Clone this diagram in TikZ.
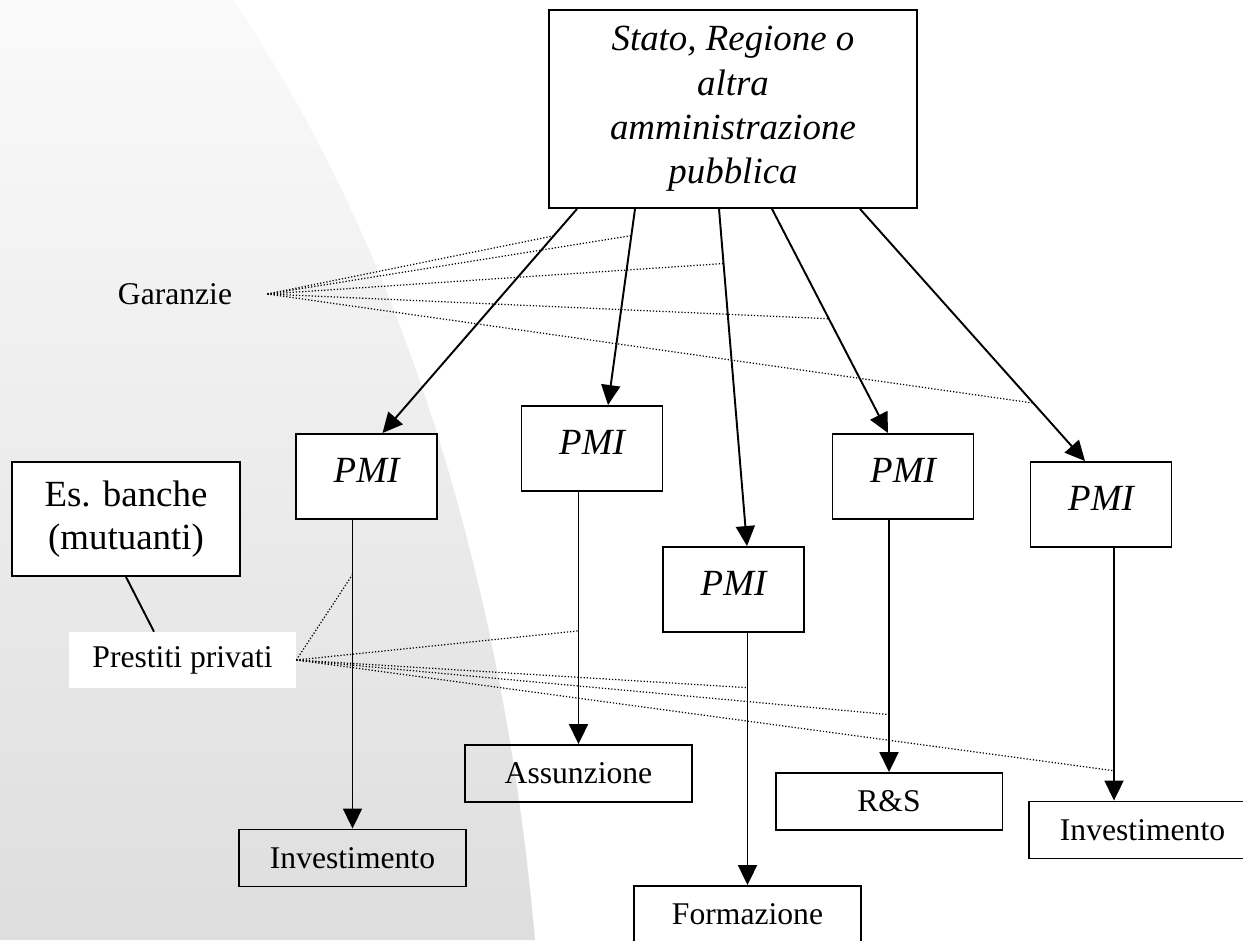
\documentclass[tikz,border=0pt]{standalone}
\usepackage{fontspec}
\setmainfont{Liberation Serif}
\usetikzlibrary{arrows.meta}
\usetikzlibrary{calc}

\begin{document}
\begin{tikzpicture}[x=0.02cm, y=-0.02cm,
    pmibox/.style={draw, fill=white, line width=1.1pt, inner sep=0pt, minimum width=2.82cm, minimum height=1.7cm,
      font=\fontsize{21}{25}\selectfont\itshape, text height=0.5cm, text depth=0.28cm},
    endbox/.style={draw, line width=1.1pt, inner sep=0pt, minimum width=4.54cm, minimum height=1.14cm,
      font=\fontsize{18}{21}\selectfont},
    arr/.style={line width=1.1pt, -{Triangle[length=4mm, width=3.8mm]}},
    dotline/.style={line width=0.7pt, dash pattern=on 0.7pt off 1.1pt}]
      \useasboundingbox (0,0) rectangle (1243,940);

      % sfondo
      \shade[top color=black!2, bottom color=black!13] (0,0) -- (233,0) .. controls (410,260) and (505,600) .. (535,940) -- (0,940) -- cycle;

      \node[draw, fill=white, line width=1.1pt, inner sep=0pt, minimum width=7.36cm, minimum height=3.96cm, align=center,
        font=\fontsize{21}{25.3}\selectfont\itshape] (ente) at (733,109) {Stato, Regione o\\altra\\amministrazione\\pubblica};

      \node[pmibox] (p1) at (366.5,476.5) {PMI};
      \node[pmibox] (p2) at (592,448.5) {PMI};
      \node[pmibox] (p3) at (733.5,589.5) {PMI};
      \node[pmibox] (p4) at (903,476.5) {PMI};
      \node[pmibox] (p5) at (1101,504.5) {PMI};

      \node[endbox] (inv1) at (352.5,858) {Investimento};
      \node[endbox] (ass) at (578.5,773.5) {Assunzione};
      \node[endbox] (form) at (747.5,914.5) {Formazione};
      \node[endbox] (rs) at (889,801.5) {R\&S};
      \node[endbox] (inv2) at (1142.5,830) {Investimento};

      \node[draw, fill=white, line width=1.1pt, inner sep=0pt, minimum width=4.56cm, minimum height=2.28cm, align=center,
        font=\fontsize{21}{24.5}\selectfont] (banche) at (126,519) {Es. banche\\(mutuanti)};
      \node[fill=white, inner sep=0pt, minimum width=4.54cm, minimum height=1.12cm,
        font=\fontsize{18}{21}\selectfont] (prestiti) at (182.5,660) {Prestiti privati};
      \node[inner ysep=0pt, inner xsep=0.7cm, font=\fontsize{18}{21}\selectfont] (garanzie) at (175,294) {Garanzie};

      % dall'ente alle PMI
      \draw[arr] ($(ente.south)+(-156,0)$) -- coordinate[pos=0.12] (g1) ($(p1.north)+(16,0)$);
      \draw[arr] ($(ente.south)+(-98,0)$) -- coordinate[pos=0.136] (g2) ($(p2.north)+(16,0)$);
      \draw[arr] ($(ente.south)+(-14,0)$) -- coordinate[pos=0.162] (g3) ($(p3.north)+(13.5,0)$);
      \draw[arr] ($(ente.south)+(39,0)$) -- coordinate[pos=0.49] (g4) ($(p4.north)+(-15,0)$);
      \draw[arr] ($(ente.south)+(127,0)$) -- coordinate[pos=0.77] (g5) ($(p5.north)+(-16,0)$);

      % dalle PMI agli impieghi
      \coordinate (t5) at ($(inv2.north)+(-28.5,0)$);
      \draw[arr] (p1.south -| inv1.north) -- coordinate[pos=0.177] (q1) (inv1.north);
      \draw[arr] (p2.south -| ass.north) -- coordinate[pos=0.551] (q2) (ass.north);
      \draw[arr] (p3.south -| form.north) -- coordinate[pos=0.217] (q3) (form.north);
      \draw[arr] (p4.south -| rs.north) -- coordinate[pos=0.772] (q4) (rs.north);
      \draw[arr] (p5.south -| t5) -- coordinate[pos=0.882] (q5) (t5);

      \foreach \i in {1,...,5} {
        \draw[dotline] (garanzie.east) -- (g\i);
        \draw[dotline] (prestiti.east) -- (q\i);
      }

      \draw[line width=1.1pt] (banche.south) -- ($(prestiti.north)+(-28.5,0)$);
    \end{tikzpicture}
\end{document}
